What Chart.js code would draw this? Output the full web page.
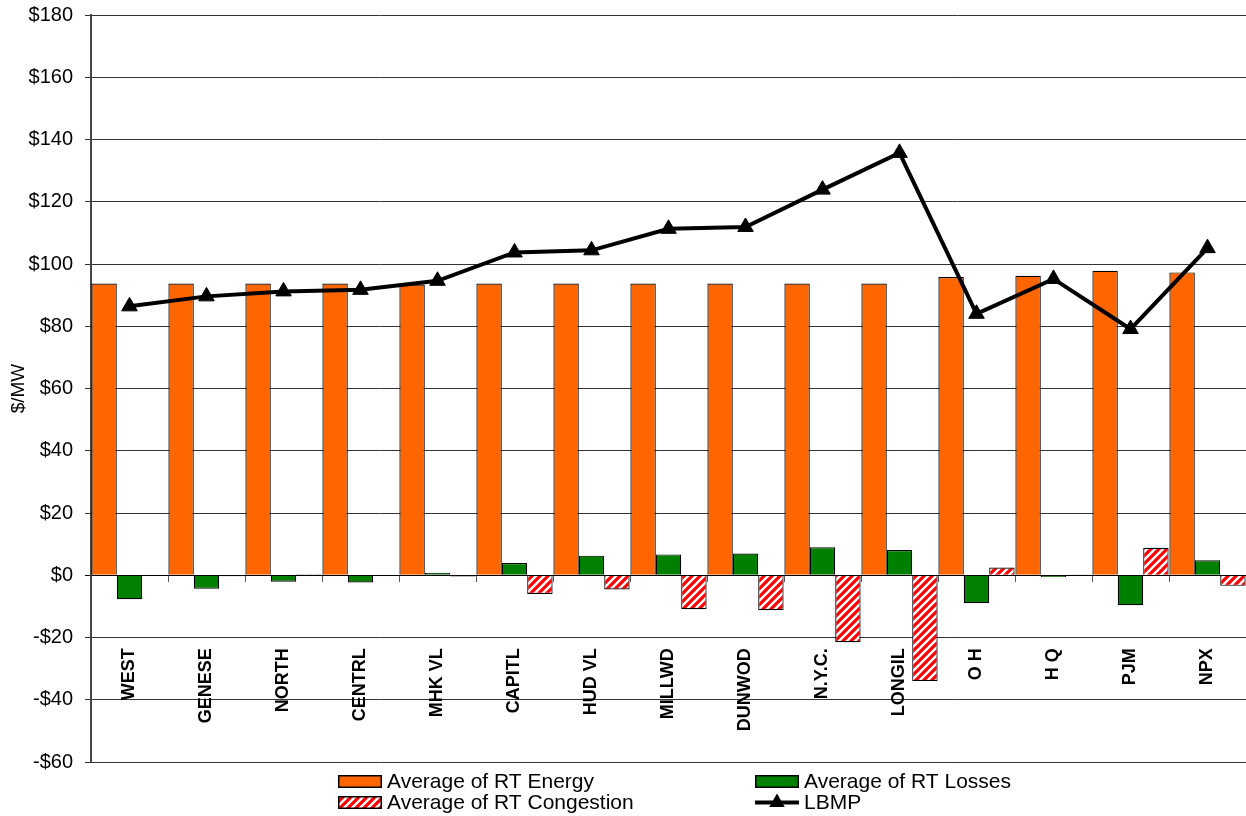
<!DOCTYPE html>
<html>
<head>
<meta charset="utf-8">
<script src="https://cdn.jsdelivr.net/npm/chart.js"></script>
<style>
  html, body { margin: 0; padding: 0; background: #fff; }
  #wrap { width: 1246px; height: 816px; }
</style>
</head>
<body>
<div id="wrap"><canvas id="chart" width="1246" height="816"></canvas></div>
<script>
// zones / categories
const zones = ['WEST', 'GENESE', 'NORTH', 'CENTRL', 'MHK VL', 'CAPITL', 'HUD VL', 'MILLWD', 'DUNWOD', 'N.Y.C.', 'LONGIL', 'O H', 'H Q', 'PJM', 'NPX'];

// values ($/MW)
const rtEnergy     = [93.7, 93.7, 93.7, 93.7, 93.4, 93.7, 93.7, 93.7, 93.7, 93.7, 93.7, 95.8, 96.2, 97.8, 97.3];
const rtLosses     = [-7.7, -4.3, -2.1, -2.3, 0.8, 3.9, 6.3, 6.7, 7.0, 9.0, 8.1, -9.0, -0.6, -9.6, 4.8];
const rtCongestion = [-0.2, -0.3, 0.3, -0.2, -0.4, -6.0, -4.6, -10.9, -11.2, -21.5, -34.0, 2.5, 0.1, 8.8, -3.4];
const lbmp         = [86.4, 89.6, 91.2, 91.7, 94.6, 103.7, 104.4, 111.3, 111.9, 123.9, 135.7, 84.0, 95.2, 79.1, 105.1];

const yTicks = { min: -60, max: 180, step: 20 };

const FONT = 'Liberation Sans, Arial, sans-serif';

// red / white diagonal hatch for the congestion bars
function makeHatch() {
    const c = document.createElement('canvas');
    c.width = 8; c.height = 8;
    const g = c.getContext('2d');
    g.fillStyle = '#ff0000';
    g.fillRect(0, 0, 8, 8);
    g.strokeStyle = '#ffffff';
    g.lineWidth = 2.4;
    g.beginPath();
    g.moveTo(-2, 10); g.lineTo(10, -2);
    g.moveTo(-6, 6); g.lineTo(6, -6);
    g.moveTo(2, 14); g.lineTo(14, 2);
    g.stroke();
    return g.createPattern(c, 'repeat');
}
const hatch = makeHatch();

// legend in two columns under the plot
const legendPlugin = {
    id: 'twoColLegend',
    afterDraw(chart) {
        const ctx = chart.ctx;
        const slots = [[338, 781.5], [755, 781.5], [338, 802.5], [755, 802.5]];
        ctx.save();
        ctx.font = '21px ' + FONT;
        ctx.textBaseline = 'middle';
        ctx.textAlign = 'left';
        chart.data.datasets.forEach((ds, i) => {
            const [x, y] = slots[i];
            if (ds.type === 'line') {
                ctx.strokeStyle = '#000';
                ctx.lineWidth = 4;
                ctx.beginPath();
                ctx.moveTo(x, y); ctx.lineTo(x + 44, y);
                ctx.stroke();
                const r = 9, cx = x + 22;
                ctx.fillStyle = '#000';
                ctx.beginPath();
                ctx.moveTo(cx, y - r);
                ctx.lineTo(cx + r * 0.866, y + r * 0.5);
                ctx.lineTo(cx - r * 0.866, y + r * 0.5);
                ctx.closePath();
                ctx.fill();
            } else {
                ctx.fillStyle = ds.backgroundColor;
                ctx.fillRect(x, y - 6.5, 44, 13);
                ctx.strokeStyle = '#000';
                ctx.lineWidth = 1.5;
                ctx.strokeRect(x + 0.75, y - 5.75, 42.5, 11.5);
            }
            ctx.fillStyle = '#000';
            ctx.fillText(ds.label, x + 49, y + 1);
        });
        ctx.restore();
    }
};

new Chart(document.getElementById('chart').getContext('2d'), {
    type: 'bar',
    data: {
        labels: zones,
        datasets: [
            { label: 'Average of RT Energy', data: rtEnergy, backgroundColor: '#ff6600', borderColor: '#000', borderWidth: 1.2, order: 1 },
            { label: 'Average of RT Losses', data: rtLosses, backgroundColor: '#008000', borderColor: '#000', borderWidth: 1.2, order: 1 },
            { label: 'Average of RT Congestion', data: rtCongestion, backgroundColor: hatch, borderColor: '#000', borderWidth: 1.2, order: 1 },
            {
                type: 'line', label: 'LBMP', data: lbmp, order: 0,
                borderColor: '#000', borderWidth: 4, tension: 0,
                pointStyle: 'triangle', pointRadius: 9, pointBackgroundColor: '#000', pointBorderColor: '#000', pointBorderWidth: 1
            }
        ]
    },
    options: {
        responsive: false,
        animation: false,
        layout: { autoPadding: false, padding: { top: 15, right: 0, bottom: 54, left: 0 } },
        datasets: { bar: { categoryPercentage: 0.99, barPercentage: 1.0 } },
        plugins: {
            legend: { display: false },
            title: { display: false },
            tooltip: { enabled: false }
        },
        scales: {
            x: {
                position: { y: 0 },
                offset: true,
                grid: { display: true, drawOnChartArea: false, drawTicks: true, tickLength: 6, color: '#555', offset: true },
                border: { display: true, color: '#000', width: 1 },
                ticks: {
                    autoSkip: false, maxRotation: 90, minRotation: 90, padding: 67,
                    color: '#000', font: { family: FONT, size: 18, weight: 'bold' }
                },
                afterFit: s => { s.paddingLeft = 0; s.paddingRight = 0; }
            },
            y: {
                min: yTicks.min, max: yTicks.max,
                ticks: {
                    stepSize: yTicks.step, padding: 12, color: '#000',
                    font: { family: FONT, size: 20 },
                    callback: v => (v < 0 ? '-$' : '$') + Math.abs(v)
                },
                grid: {
                    color: c => (c.tick && c.tick.value === 0 ? '#000' : '#333'),
                    lineWidth: 1, tickLength: 6, drawTicks: true
                },
                border: { display: true, color: '#444', width: 2 },
                title: { display: true, text: '$/MW', color: '#000', font: { family: FONT, size: 19 }, padding: { top: 7, bottom: 0 } },
                afterFit: s => { s.width = 91; s.paddingTop = 0; s.paddingBottom = 0; }
            }
        }
    },
    plugins: [legendPlugin]
});
</script>
</body>
</html>
